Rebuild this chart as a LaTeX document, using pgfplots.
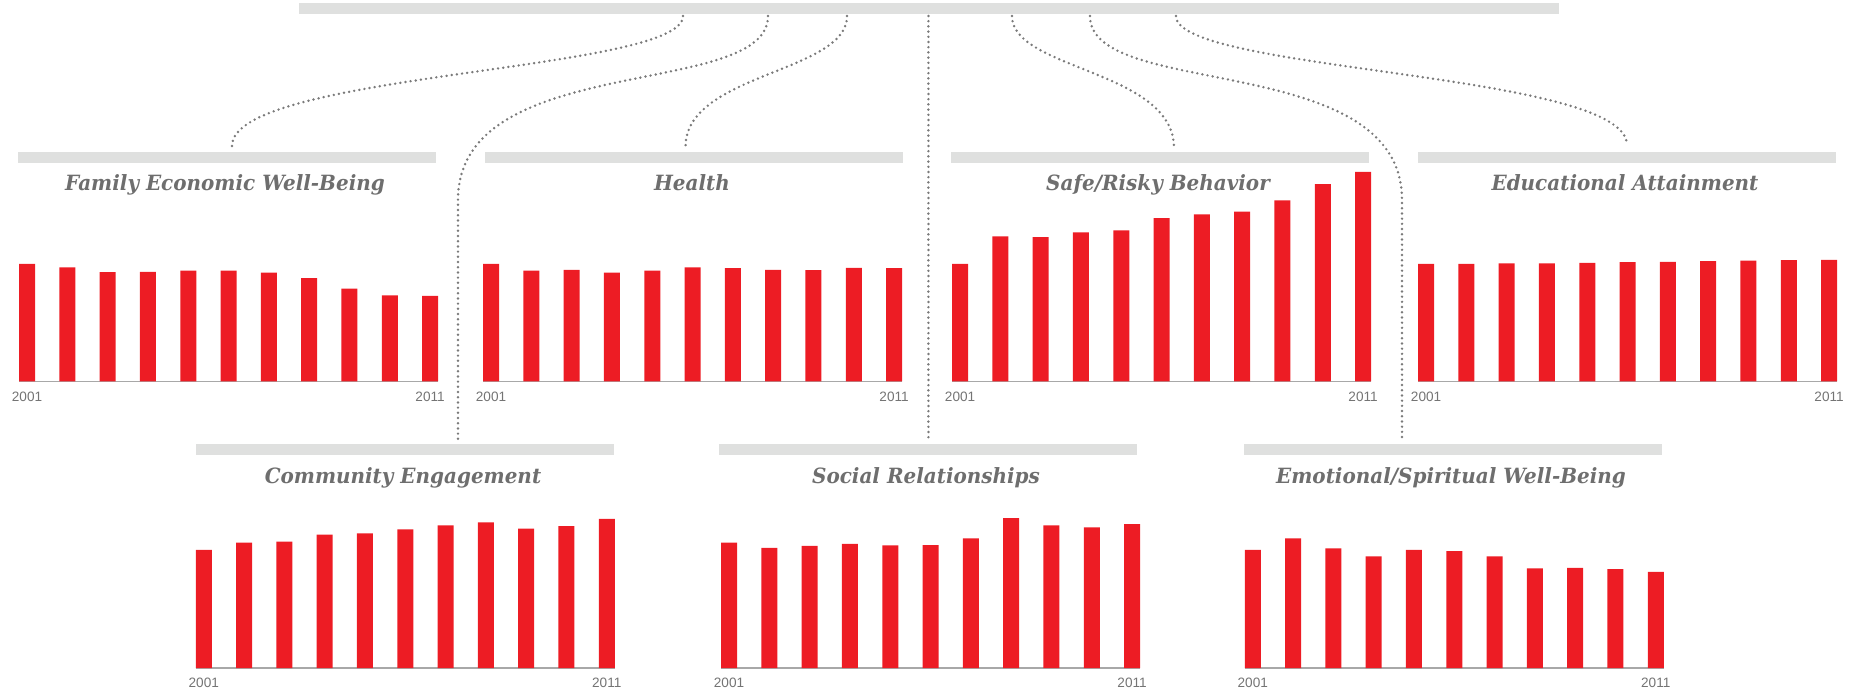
\documentclass[border=0pt]{standalone}
\usepackage{pgfplots}
\usepackage{pgfplotstable}
\pgfplotsset{compat=1.18}
\usepackage{fontspec}
\setmainfont{DejaVu Serif}
\newfontfamily\titlefont[FakeStretch=0.95]{DejaVu Serif}
\newfontfamily\labelfont{Liberation Sans}

\definecolor{barred}{HTML}{ED1C24}
\definecolor{headgrey}{HTML}{DFE0DF}
\definecolor{titlegrey}{HTML}{6E6E6E}
\definecolor{dotgrey}{HTML}{7A7A7A}
\definecolor{labgrey}{HTML}{747474}
\definecolor{basegrey}{HTML}{A8A8A8}

% index values, 2001-2011, one column per domain
\pgfplotstableread{
year  fam    health safe   edu    comm   social emot
2001  100.0  100.0  100.0  100.0  100.3  106.5  100.3
2002   96.9   94.3  123.4  100.0  106.5  102.0  110.2
2003   92.9   94.9  122.6  100.3  107.3  103.7  101.7
2004   93.2   92.4  126.6  100.3  113.3  105.4   94.9
2005   94.3   94.1  128.5  100.8  114.4  104.2  100.3
2006   94.3   96.9  138.7  101.4  117.8  104.5   99.2
2007   92.4   96.3  141.9  101.7  121.2  110.2   94.9
2008   87.8   94.9  144.4  102.2  123.8  127.4   84.7
2009   78.8   94.6  153.8  102.8  118.4  121.2   85.0
2010   73.1   96.6  167.6  103.1  120.6  119.5   83.9
2011   72.8   96.3  178.2  103.4  126.6  122.3   81.6
}\cwi

\pgfplotsset{
  panel/.style={
    x=20.15pt, y=0.5885pt,
    xmin=2000.8, xmax=2011.2, ymin=0, ymax=180,
    anchor=south west,
    axis x line*=bottom, axis y line=none,
    axis line style={basegrey, line width=0.6pt},
    xtick={2001,2011}, xticklabels={2001,2011},
    major tick length=0pt,
    xticklabel style={font=\labelfont\fontsize{6.8}{7}\selectfont,
      text=labgrey, anchor=center, yshift=-7.6pt},
    ytick=\empty,
    ybar, bar width=0.397,
    clip=false,
  },
  redbars/.style={fill=barred, draw=none},
}

\tikzset{
  dots/.style={dotgrey, line width=1.35pt, line cap=round,
    dash pattern=on 0pt off 2.6pt},
  ttl/.style={anchor=base, text=titlegrey,
    font=\titlefont\bfseries\itshape\fontsize{10.5}{13}\selectfont},
}

\begin{document}
\begin{tikzpicture}
\begin{scope}[x=0.5pt, y=-0.5pt]
  \useasboundingbox (0,0) rectangle (1860,691);
  % top bar and the headers of the seven panels
  \fill[headgrey] (299,3) rectangle (1559,13.7);
  \fill[headgrey] (18,152.3) rectangle (436,162.7);
  \fill[headgrey] (485,152.3) rectangle (903,162.7);
  \fill[headgrey] (951,152.3) rectangle (1369,162.7);
  \fill[headgrey] (1418,152.3) rectangle (1836,162.7);
  \fill[headgrey] (196,444) rectangle (614,454.7);
  \fill[headgrey] (719,444) rectangle (1137,454.7);
  \fill[headgrey] (1244,444) rectangle (1662,454.7);

  % connectors
  \draw[dots] (683,16) .. controls (683,72) and (232,72) .. (232,146);
  \draw[dots] (847,16) .. controls (847,73) and (685.5,73) .. (685.5,147);
  \draw[dots] (1012,16) .. controls (1012,70) and (1174,70) .. (1174,148);
  \draw[dots] (1176,16) .. controls (1176,72) and (1627,72) .. (1627,145);
  \draw[dots] (768,16) .. controls (768,100) and (458,50) .. (458,200) -- (458,442);
  \draw[dots] (1090,16) .. controls (1090,100) and (1402,50) .. (1402,200) -- (1402,442);
  \draw[dots] (928.4,16) -- (928.4,442);

  % titles
  \node[ttl] at (225,190.7) {Family Economic Well-Being};
  \node[ttl] at (692,190.7) {Health};
  \node[ttl] at (1158,190.7) {Safe/Risky Behavior};
  \node[ttl] at (1625,190.7) {Educational Attainment};
  \node[ttl] at (403,483.3) {Community Engagement};
  \node[ttl] at (926,483.3) {Social Relationships};
  \node[ttl] at (1451,483.3) {Emotional/Spiritual Well-Being};
\end{scope}

\begin{axis}[panel, at={(9.5pt,-190.75pt)}]
  \addplot[redbars] table[x=year, y=fam] {\cwi};
\end{axis}
\begin{axis}[panel, at={(241.5pt,-190.75pt)}]
  \addplot[redbars] table[x=year, y=health] {\cwi};
\end{axis}
\begin{axis}[panel, at={(476pt,-190.75pt)}]
  \addplot[redbars] table[x=year, y=safe] {\cwi};
\end{axis}
\begin{axis}[panel, at={(709pt,-190.75pt)}]
  \addplot[redbars] table[x=year, y=edu] {\cwi};
\end{axis}
\begin{axis}[panel, at={(97.85pt,-334pt)}]
  \addplot[redbars] table[x=year, y=comm] {\cwi};
\end{axis}
\begin{axis}[panel, at={(360.5pt,-334pt)}]
  \addplot[redbars] table[x=year, y=social] {\cwi};
\end{axis}
\begin{axis}[panel, at={(622.35pt,-334pt)}]
  \addplot[redbars] table[x=year, y=emot] {\cwi};
\end{axis}
\end{tikzpicture}
\end{document}
